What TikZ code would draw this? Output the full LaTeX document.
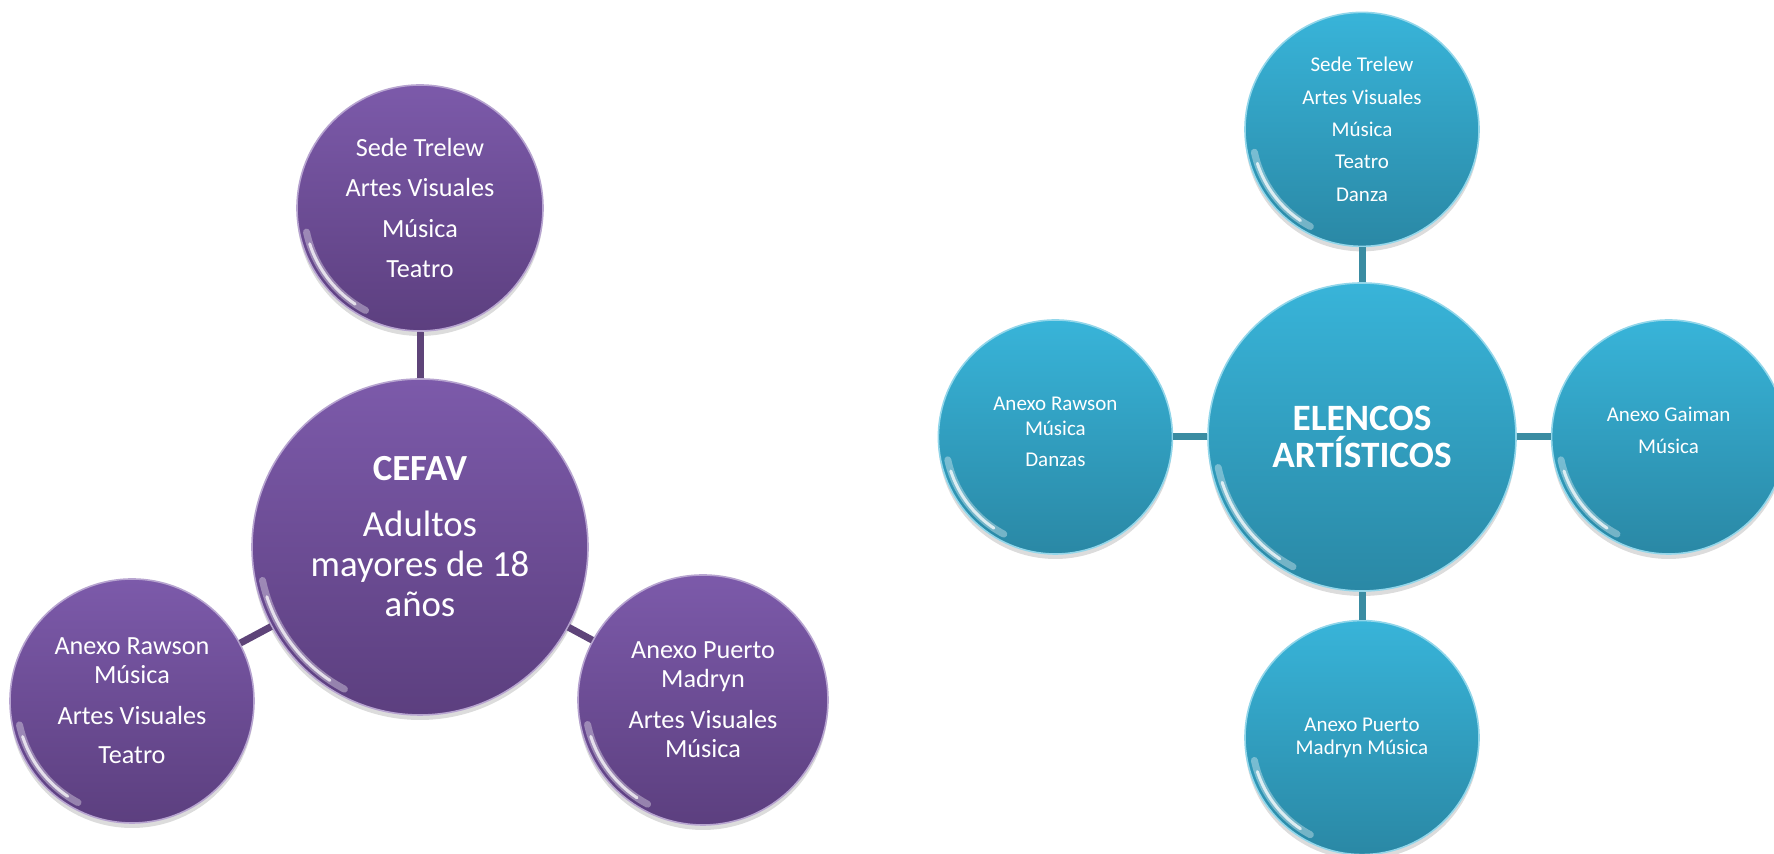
\documentclass[tikz,border=0pt]{standalone}
\usepackage{fontspec}
\setmainfont{Carlito}
\usetikzlibrary{positioning,calc,shadows}

\definecolor{violetTop}{HTML}{7C5AAA}
\definecolor{violetBot}{HTML}{5C3F7F}
\definecolor{violetLine}{HTML}{5E4479}
\definecolor{tealTop}{HTML}{38B4D9}
\definecolor{tealBot}{HTML}{2A88A5}
\definecolor{tealLine}{HTML}{3A8CA2}

\begin{document}
\begin{tikzpicture}[
    x=0.5pt, y=0.5pt,
    bubble/.style={circle, inner sep=0pt, align=center, text=white, line width=0.8pt,
      drop shadow={opacity=.28, shadow xshift=0pt, shadow yshift=-2.5pt},
      path picture={
        \draw[white, opacity=.35, line width=3.5pt, line cap=round]
          let \p1=(path picture bounding box.east), \p2=(path picture bounding box.center),
              \n1={\x1-\x2-3.5pt} in
          ($(\p2)+(192:\n1)$) arc[start angle=192, end angle=242, radius=\n1];
        \draw[white, opacity=.75, line width=1.5pt, line cap=round]
          let \p1=(path picture bounding box.east), \p2=(path picture bounding box.center),
              \n1={\x1-\x2-3.5pt} in
          ($(\p2)+(198:\n1)$) arc[start angle=198, end angle=236, radius=\n1];
      }},
    violet/.style={bubble, top color=violetTop, bottom color=violetBot, draw=violetTop!55!white},
    teal/.style={bubble, top color=tealTop, bottom color=tealBot, draw=tealTop!55!white},
    vsmall/.style={violet, font=\fontsize{13.1}{14.5}\selectfont},
    tsmall/.style={teal, minimum size=117pt, font=\fontsize{10.5}{12.5}\selectfont},
    vlink/.style={draw=violetLine, line width=3.5pt},
    tlink/.style={draw=tealLine, line width=3.5pt},
  ]
    \useasboundingbox (0,0) rectangle (1774,854);

    % CEFAV
    \node[violet, minimum size=168pt, font=\fontsize{18.4}{20}\selectfont] (cefav) at (420,307) {
      \textbf{CEFAV}\\[8pt]
      Adultos\\
      mayores de 18\\
      años\rule[-11pt]{0pt}{0pt}
    };
    \node[vsmall, minimum size=123pt] (trelew) at (420,646) {
      Sede Trelew\\[5.8pt]
      Artes Visuales\\[5.8pt]
      Música\\[5.8pt]
      Teatro
    };
    \node[vsmall, minimum size=122pt] (rawson) at (132,153) {
      Anexo Rawson\\
      Música\\[6pt]
      Artes Visuales\\[5pt]
      Teatro
    };
    \node[vsmall, minimum size=125pt] (madryn) at (703,154) {
      Anexo Puerto\\
      Madryn\\[6pt]
      Artes Visuales\\
      Música
    };

    \draw[vlink] (cefav) -- (trelew);
    \draw[vlink] (cefav) -- (rawson);
    \draw[vlink] (cefav) -- (madryn);

    % Elencos
    \node[teal, minimum size=154pt, font=\fontsize{18.6}{18.5}\selectfont\bfseries] (elencos) at (1362,417) {
      ELENCOS\\
      ARTÍSTICOS
    };
    \node[tsmall, above=17.5pt of elencos] (etrelew) {
      Sede Trelew\\[3.7pt]
      Artes Visuales\\[3.7pt]
      Música\\[3.7pt]
      Teatro\\[3.7pt]
      Danza
    };
    \node[tsmall, left=17pt of elencos] (erawson) {
      Anexo Rawson\\
      Música\\[3pt]
      Danzas\rule[-5pt]{0pt}{0pt}
    };
    \node[tsmall, right=17pt of elencos] (egaiman) {
      Anexo Gaiman\\[3.7pt]
      Música\rule[-7pt]{0pt}{0pt}
    };
    \node[tsmall, below=14pt of elencos, font=\fontsize{10.5}{11.5}\selectfont] (emadryn) {
      Anexo Puerto\\
      Madryn Música
    };

    \draw[tlink] (elencos) -- (etrelew);
    \draw[tlink] (elencos) -- (erawson);
    \draw[tlink] (elencos) -- (egaiman);
    \draw[tlink] (elencos) -- (emadryn);
  \end{tikzpicture}
\end{document}
